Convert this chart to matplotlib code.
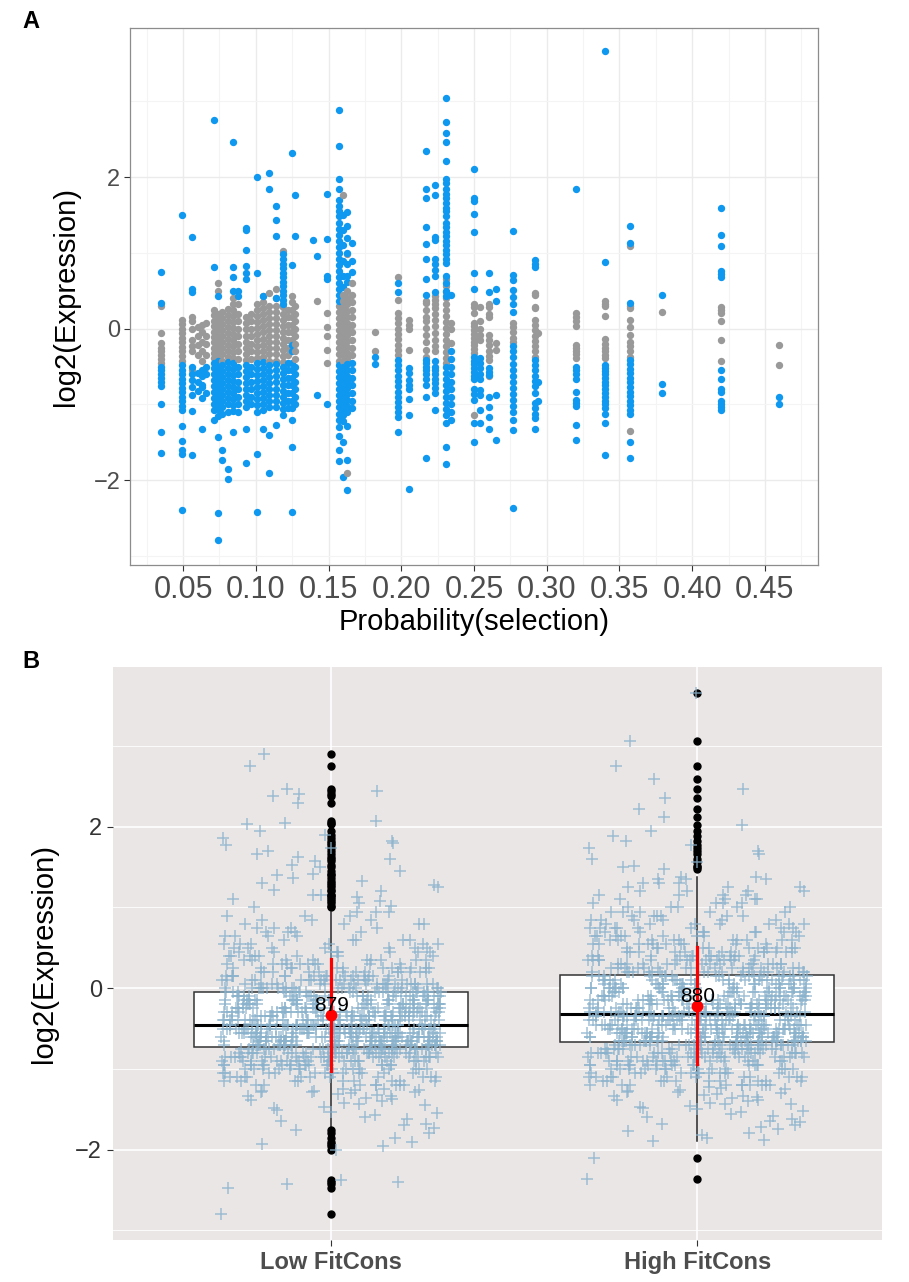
import matplotlib
matplotlib.use('Agg')
import matplotlib.pyplot as plt
from matplotlib.ticker import FixedLocator
import numpy as np

plt.rcParams['font.family'] = ['Liberation Sans', 'DejaVu Sans']

# ---------------- panel A: one entry per selection-probability column
sel_x = [0.035, 0.049, 0.056, 0.060, 0.063, 0.066, 0.071, 0.074, 0.077, 0.081,
         0.084, 0.088, 0.093, 0.097, 0.101, 0.105, 0.109, 0.114, 0.119, 0.122,
         0.125, 0.127, 0.139, 0.142, 0.149, 0.157, 0.160, 0.163, 0.166, 0.182,
         0.198, 0.205, 0.217, 0.223, 0.231, 0.234, 0.250, 0.254, 0.260,
         0.265, 0.277, 0.292, 0.294, 0.320, 0.340, 0.3575, 0.379, 0.420,
         0.460]

sel_gray = [
    [0.30, -0.06, -0.19, -0.25, -0.30, -0.35, -0.40, -0.45],
    [0.12, 0.06, 0.0, -0.06, -0.12, -0.18, -0.24, -0.30, -0.36, -0.42],
    [0.16, 0.10, 0.0, -0.15, -0.23, -0.30, -0.54],
    [0.02, -0.10, -0.22, -0.35],
    [0.05, -0.04, -0.17, -0.30, -0.43],
    [0.08, -0.10, -0.20, -0.35],
    [0.25, 0.18, 0.10, 0.03, -0.04, -0.11, -0.18, -0.25, -0.32, -0.39],
    [0.60, 0.50, 0.20, 0.12, 0.05, -0.02, -0.09, -0.16, -0.23, -0.30, -0.37],
    [0.22, 0.14, 0.06, -0.02, -0.10, -0.18, -0.26, -0.34, -0.42],
    [0.26, 0.18, 0.10, 0.02, -0.06, -0.14, -0.22, -0.30, -0.38],
    [0.41, 0.32, 0.25, 0.17, 0.09, 0.01, -0.07, -0.15, -0.23, -0.31, -0.39],
    [0.32, 0.20, 0.10, 0.0, -0.10, -0.20, -0.30, -0.40],
    [0.15, 0.07, -0.01, -0.09, -0.17, -0.25, -0.33, -0.41],
    [0.20, 0.10, 0.0, -0.10, -0.20, -0.30, -0.40],
    [0.32, 0.25, 0.17, 0.09, 0.01, -0.07, -0.15, -0.23, -0.31, -0.39],
    [0.43, 0.35, 0.27, 0.19, 0.11, 0.03, -0.05, -0.13, -0.21, -0.29, -0.37],
    [0.47, 0.30, 0.22, 0.14, 0.06, -0.02, -0.10, -0.18, -0.26, -0.34, -0.42],
    [0.52, 0.40, 0.30, 0.22, 0.14, 0.06, -0.02, -0.10, -0.18, -0.26, -0.34, -0.42],
    [1.02, 0.28, 0.20, 0.12, 0.04, -0.04, -0.12, -0.20, -0.28, -0.36, -0.44],
    [0.25, 0.15, 0.05, -0.05, -0.15, -0.25, -0.35],
    [0.43, 0.35, 0.25, 0.15, 0.05, -0.05, -0.15],
    [0.30, 0.20, 0.10, 0.0, -0.10, -0.20, -0.30, -0.40],
    [],
    [0.37],
    [0.21, 0.02, -0.10, -0.28, -0.45],
    [0.30, 0.22, 0.14, 0.06, -0.02, -0.10, -0.18, -0.26, -0.34, -0.42],
    [1.76, 0.45, 0.37, 0.29, 0.21, 0.13, 0.05, -0.03, -0.11, -0.19, -0.27, -0.35, -0.43],
    [0.98, 0.50, 0.40, 0.32, 0.24, 0.16, 0.08, 0.0, -0.08, -0.16, -0.24, -0.32, -0.40, -1.90],
    [0.60, 0.45, 0.35, 0.25, 0.15, 0.05, -0.05, -0.15, -0.25, -0.35],
    [-0.04, -0.30],
    [0.68, 0.38, 0.21, 0.14, 0.07, 0.0, -0.07, -0.14, -0.21, -0.28, -0.35],
    [0.12, 0.05, 0.0, -0.28],
    [0.37, 0.34, 0.25, 0.16, 0.10, 0.01, -0.08, -0.17, -0.28, -0.37],
    [0.43, 0.38, 0.32, 0.27, 0.20, 0.12, 0.03, -0.06, -0.15, -0.23, -0.30],
    [0.65, 0.57, 0.49, 0.41, 0.33, 0.25, 0.17, 0.09, 0.01, -0.07, -0.15, -0.23, -0.31, -0.39, -0.45],
    [0.08, 0.0, -0.19],
    [0.33, 0.29, 0.21, 0.08, 0.03, -0.02, -0.07, -0.12, -0.17, -0.22, -0.27, -0.32, -1.14],
    [0.29, 0.10, -0.01, -0.08, -0.15],
    [0.33, 0.28, 0.20, 0.16, -0.08, -0.15, -0.22, -0.30, -0.36, -0.41, -0.63],
    [-0.19, -0.28],
    [0.08, 0.02, -0.05, -0.12, -0.18],
    [0.47, 0.45, 0.29, 0.27, 0.12, 0.05, -0.02, -0.09, -0.16, -0.23, -0.30, -0.37],
    [-0.06],
    [0.21, 0.15, 0.10, 0.03, -0.21, -0.25, -0.30, -0.34, -0.39],
    [0.36, 0.33, 0.30, 0.17, -0.14, -0.20, -0.25, -0.30, -0.35, -0.39],
    [1.09, 0.30, 0.27, 0.12, 0.02, -0.08, -0.17, -0.23, -0.30, -0.37, -1.35],
    [0.22],
    [0.29, 0.25, 0.21, 0.10, -0.15, -0.42],
    [-0.22, -0.48],
]

sel_blue = [
    [0.75, 0.34, -0.50, -0.55, -0.60, -0.65, -0.70, -0.76, -1.00, -1.36, -1.64],
    [1.50, -0.48, -0.54, -0.60, -0.66, -0.72, -0.78, -0.84, -0.90, -0.96, -1.02, -1.08,
     -1.28, -1.48, -1.60, -1.65, -2.40],
    [1.21, 0.52, 0.49, -0.50, -0.60, -0.68, -0.77, -0.87, -1.09, -1.67],
    [-0.58, -0.70, -0.82],
    [-0.54, -0.63, -0.74, -0.77, -0.92, -1.32],
    [-0.50, -0.60, -0.85],
    [2.75, 0.81, -0.45, -0.52, -0.60, -0.68, -0.76, -0.84, -0.92, -1.00, -1.08, -1.20],
    [0.43, -0.42, -0.50, -0.58, -0.66, -0.74, -0.82, -0.90, -0.98, -1.06, -1.15, -1.43,
     -2.44, -2.79],
    [-0.48, -0.56, -0.64, -0.72, -0.80, -0.88, -0.96, -1.04, -1.12, -1.60, -1.73],
    [-0.44, -0.52, -0.60, -0.68, -0.76, -0.84, -0.92, -1.00, -1.10, -1.85, -1.98],
    [2.46, 0.82, 0.68, 0.50, -0.45, -0.53, -0.61, -0.69, -0.77, -0.85, -0.93, -1.01,
     -1.09, -1.36],
    [0.50, 0.43, -0.50, -0.60, -0.70, -0.80, -0.90, -1.00, -1.10],
    [1.33, 1.30, 1.04, 0.83, 0.74, 0.66, -0.48, -0.56, -0.64, -0.72, -0.80, -0.88,
     -0.96, -1.04, -1.32, -1.77],
    [-0.50, -0.60, -0.70, -0.80, -0.90, -1.00],
    [2.00, 0.74, -0.45, -0.53, -0.61, -0.69, -0.77, -0.85, -0.93, -1.01, -1.10, -1.65, -2.42],
    [0.43, -0.44, -0.52, -0.60, -0.68, -0.76, -0.84, -0.92, -1.00, -1.08, -1.32],
    [2.05, 1.84, -0.48, -0.56, -0.64, -0.72, -0.80, -0.88, -0.96, -1.04, -1.41, -1.90],
    [1.62, 1.43, 1.22, 0.41, -0.47, -0.55, -0.63, -0.71, -0.79, -0.87, -0.95, -1.03, -1.27],
    [0.98, 0.92, 0.86, 0.80, 0.74, 0.68, 0.62, 0.56, 0.50, 0.44, 0.38, 0.32, -0.50,
     -0.58, -0.66, -0.74, -0.82, -0.90, -0.98, -1.06, -1.14],
    [-0.45, -0.55, -0.65, -0.75, -0.85, -0.95, -1.05],
    [2.32, 0.84, -0.22, -0.30, -0.45, -0.55, -0.65, -0.75, -0.85, -0.95, -1.05, -1.20,
     -1.56, -2.42],
    [1.77, 1.23, -0.50, -0.60, -0.70, -0.80, -0.90, -1.00],
    [1.17],
    [0.96, -0.87],
    [1.78, 1.19, 0.69, 0.65, -1.00],
    [2.89, 2.41, 1.98, 1.85, 1.70, 1.62, 1.55, 1.49, 1.40, 1.32, 1.24, 1.16, 1.08, 1.00,
     0.92, 0.84, 0.76, 0.68, 0.60, 0.52, 0.44, 0.36, -0.48, -0.56, -0.64, -0.72, -0.80,
     -0.88, -0.96, -1.04, -1.12, -1.20, -1.30, -1.42, -1.60, -1.75],
    [1.50, 1.30, 1.10, 0.90, 0.70, 0.55, -0.50, -0.58, -0.66, -0.74, -0.82, -0.90,
     -0.98, -1.06, -1.14, -1.22, -1.49, -1.96],
    [1.54, 1.36, 1.20, 1.00, 0.85, 0.70, 0.62, -0.46, -0.54, -0.62, -0.70, -0.78,
     -0.86, -0.94, -1.02, -1.10, -1.29, -1.74, -2.13],
    [1.13, 0.90, 0.75, -0.45, -0.55, -0.65, -0.75, -0.85, -0.95, -1.05],
    [-0.37, -0.46],
    [0.60, 0.49, -0.41, -0.48, -0.55, -0.62, -0.69, -0.76, -0.83, -0.90, -0.97, -1.04,
     -1.10, -1.16, -1.36],
    [-0.52, -0.59, -0.68, -0.74, -0.79, -0.93, -1.14, -2.12],
    [2.35, 1.84, 1.72, 1.34, 1.12, 0.92, 0.66, 0.45, -0.41, -0.45, -0.50, -0.55, -0.60,
     -0.67, -0.74, -0.90, -1.71],
    [1.90, 1.76, 1.21, 1.17, 0.92, 0.85, 0.78, 0.70, 0.49, -0.43, -0.50, -0.55, -0.60,
     -0.66, -0.72, -0.78, -0.85, -1.07],
    [3.04, 2.73, 2.58, 2.46, 2.21, 1.97, 1.93, 1.84, 1.78, 1.72, 1.66, 1.60, 1.55, 1.49,
     1.40, 1.34, 1.28, 1.22, 1.16, 1.10, 1.04, 0.98, 0.92, 0.87, 0.69, 0.60, 0.50, 0.43,
     -0.50, -0.58, -0.66, -0.74, -0.82, -0.90, -0.98, -1.06, -1.14, -1.25, -1.56, -1.78],
    [0.45, -0.30, -0.40, -0.50, -0.60, -0.70, -0.79, -0.90, -1.00, -1.10, -1.20],
    [2.11, 1.72, 1.69, 1.51, 1.28, 0.74, 0.52, -0.37, -0.42, -0.47, -0.52, -0.57, -0.62,
     -0.67, -0.79, -0.86, -0.94, -1.25, -1.49],
    [-0.39, -0.45, -0.52, -0.60, -0.67, -0.81, -0.87, -1.07, -1.25],
    [0.74, 0.49, -0.52, -0.57, -0.61, -0.90, -1.03, -1.16, -1.33],
    [0.52, 0.36, -0.87, -1.47],
    [1.29, 0.71, 0.64, 0.51, 0.42, 0.32, 0.22, -0.23, -0.30, -0.38, -0.46, -0.54, -0.62,
     -0.70, -0.78, -0.86, -0.94, -1.02, -1.10, -1.20, -1.34, -2.37],
    [0.91, 0.86, 0.81, -0.41, -0.48, -0.55, -0.62, -0.69, -0.76, -0.85, -0.98, -1.05,
     -1.12, -1.18, -1.32],
    [-0.70, -0.96],
    [1.84, -0.51, -0.55, -0.60, -0.67, -0.83, -0.94, -0.98, -1.02, -1.27, -1.47],
    [3.66, 0.88, -0.48, -0.52, -0.56, -0.60, -0.65, -0.70, -0.75, -0.80, -0.85, -0.90,
     -0.95, -1.00, -1.05, -1.12, -1.25, -1.67],
    [1.36, 1.13, 0.34, -0.41, -0.47, -0.53, -0.59, -0.65, -0.71, -0.77, -0.83, -0.89,
     -0.95, -1.01, -1.07, -1.13, -1.50, -1.71],
    [0.44, -0.73, -0.85],
    [1.60, 1.24, 1.09, 0.76, 0.72, 0.68, -0.55, -0.67, -0.79, -0.83, -0.96, -1.00,
     -1.03, -1.07],
    [-0.90, -1.00],
]

# ---------------- panel B: log2 expression per FitCons group
groups = ['Low FitCons', 'High FitCons']

low_core_vals = [-1.2, -1.15, -1.1, -1.05, -1.0, -0.95, -0.9, -0.85, -0.8, -0.75,
                 -0.7, -0.65, -0.6, -0.55, -0.5, -0.45,
                 -0.4, -0.35, -0.3, -0.25, -0.2, -0.15, -0.1, -0.05,
                 0.0, 0.05, 0.1, 0.15, 0.2, 0.25, 0.3, 0.35, 0.4, 0.45, 0.5, 0.55,
                 0.6, 0.65, 0.7, 0.75, 0.8, 0.85, 0.9, 0.95]
low_core_counts = [8, 9, 11, 13, 15, 18, 21, 24, 27, 29,
                   35, 37, 38, 38, 37, 35,
                   32, 31, 29, 28, 27, 25, 24, 24,
                   22, 20, 17, 15, 13, 12, 10, 9, 8, 8, 7, 6,
                   5, 4, 4, 4, 4, 3, 3, 3]
low_tail = [-2.8, -2.47, -2.42, -2.4, -2.38, -2.0, -1.96, -1.93, -1.9, -1.85, -1.8,
            -1.76, -1.73, -1.7, -1.68, -1.64, -1.62, -1.6, -1.57, -1.55, -1.53, -1.51,
            -1.49, -1.47, -1.45, -1.43, -1.42, -1.4, -1.38, -1.37, -1.36, -1.34, -1.33,
            -1.32, -1.31, -1.3, -1.29, -1.28, -1.28, -1.27, -1.27, -1.26, -1.26, -1.25,
            -1.25,
            1.0, 1.02, 1.05, 1.08, 1.1, 1.13, 1.15, 1.16, 1.2, 1.22, 1.25, 1.28, 1.3,
            1.33, 1.37, 1.4, 1.42, 1.45, 1.5, 1.53, 1.57, 1.6, 1.62, 1.66, 1.7, 1.74,
            1.78, 1.8, 1.82, 1.86, 1.9, 1.95, 2.03, 2.05, 2.07, 2.3, 2.38, 2.41, 2.44,
            2.47, 2.75, 2.9]

high_core_vals = [-1.2, -1.15, -1.1, -1.05, -1.0, -0.95, -0.9, -0.85, -0.8, -0.75, -0.7,
                  -0.65, -0.6, -0.55, -0.5, -0.45, -0.4, -0.35,
                  -0.3, -0.25, -0.2, -0.15, -0.1, -0.05, 0.0, 0.05, 0.1, 0.15,
                  0.2, 0.25, 0.3, 0.35, 0.4, 0.45, 0.5, 0.55, 0.6, 0.65, 0.7, 0.75,
                  0.8, 0.85, 0.9, 0.95, 1.0, 1.05, 1.1, 1.15, 1.2, 1.25, 1.3, 1.35, 1.38]
high_core_counts = [10, 10, 11, 12, 13, 15, 17, 19, 21, 23, 25,
                    31, 32, 32, 32, 32, 31, 30,
                    25, 24, 23, 23, 22, 22, 21, 21, 20, 19,
                    17, 16, 15, 14, 13, 12, 11, 10, 10, 9, 8, 8,
                    7, 6, 6, 5, 5, 4, 4, 4, 4, 3, 3, 3, 2]
high_tail = [-2.36, -2.11, -1.89, -1.88, -1.85, -1.82, -1.8, -1.77, -1.75, -1.72, -1.7,
             -1.68, -1.66, -1.64, -1.62, -1.6, -1.58, -1.56, -1.54, -1.52, -1.5, -1.49,
             -1.47, -1.46, -1.44, -1.43, -1.42, -1.4, -1.39, -1.38, -1.36, -1.35, -1.34,
             -1.33, -1.32, -1.31, -1.3, -1.29, -1.28, -1.27, -1.26, -1.25, -1.24, -1.23,
             1.48, 1.5, 1.52, 1.56, 1.6, 1.66, 1.7, 1.74, 1.78, 1.83, 1.88, 1.95, 2.02,
             2.12, 2.22, 2.36, 2.47, 2.59, 2.75, 3.06, 3.66]

low_expr = np.sort(np.concatenate([np.repeat(low_core_vals, low_core_counts), low_tail]))
high_expr = np.sort(np.concatenate([np.repeat(high_core_vals, high_core_counts), high_tail]))
expr = [low_expr, high_expr]

BLUE = '#0e98f0'
GRAY = '#999999'
GRID_A = '#ebebeb'
TXT = '#4d4d4d'

fig = plt.figure(figsize=(9.09, 12.82), dpi=100)

# ================= panel A
axA = fig.add_axes([130 / 909, 1 - 565 / 1282, 688 / 909, 537 / 1282])
for x, g, b in zip(sel_x, sel_gray, sel_blue):
    axA.scatter([x] * len(g), g, s=28, color=GRAY, linewidths=0, zorder=3)
    axA.scatter([x] * len(b), b, s=28, color=BLUE, linewidths=0, zorder=3)

axA.set_xlim(0.0135, 0.4865)
axA.set_ylim(-3.12, 3.97)
axA.set_xticks([0.05, 0.10, 0.15, 0.20, 0.25, 0.30, 0.35, 0.40, 0.45])
axA.set_xticklabels(['%.2f' % v for v in axA.get_xticks()], fontsize=22)
axA.set_yticks([-2, 0, 2])
axA.set_yticklabels(['\u22122', '0', '2'], fontsize=17)
axA.xaxis.set_minor_locator(FixedLocator([0.025, 0.075, 0.125, 0.175, 0.225, 0.275,
                                          0.325, 0.375, 0.425, 0.475]))
axA.yaxis.set_minor_locator(FixedLocator([-3, -1, 1, 3]))
axA.grid(True, which='major', color=GRID_A, lw=1.0, zorder=0)
axA.grid(True, which='minor', color='#f4f4f4', lw=0.8, zorder=0)
axA.set_axisbelow(True)
axA.tick_params(which='major', colors='#333333', length=4, width=0.8, labelcolor=TXT,
                pad=3)
axA.tick_params(which='minor', length=0)
for sp in axA.spines.values():
    sp.set_color('#8c8c8c')
    sp.set_linewidth(0.9)
axA.set_xlabel('Probability(selection)', fontsize=21, labelpad=2)
axA.set_ylabel('log2(Expression)', fontsize=21, labelpad=10)

# ================= panel B
axB = fig.add_axes([113 / 909, 1 - 1240 / 1282, 769 / 909, 573 / 1282])
axB.set_facecolor('#ebe6e6')
pos = [1, 2]
axB.boxplot(expr, positions=pos, widths=0.75, patch_artist=True, showcaps=False,
            boxprops=dict(facecolor='white', edgecolor='#333333', lw=1.1),
            medianprops=dict(color='black', lw=2.2),
            whiskerprops=dict(color='#222222', lw=1.1),
            flierprops=dict(marker='o', markerfacecolor='black', markeredgecolor='black',
                            markersize=5, linestyle='none'),
            zorder=2)

# deterministic jitter (quadratic golden-ratio spacing) in place of ggplot's random jitter
for p, vals in zip(pos, expr):
    k = np.arange(len(vals), dtype=float)
    off = (((k * k * 0.6180339887 + k * 0.4142135624) % 1.0) * 2 - 1) * 0.3
    axB.plot(p + off, vals, '+', color='#8ab2cc', alpha=0.8, ms=9, mew=1.1,
             zorder=3)

for p, vals in zip(pos, expr):
    m, s = vals.mean(), vals.std()
    axB.plot([p, p], [m - s, m + s], color='red', lw=2.3, zorder=4)
    axB.plot(p, m, 'o', color='red', ms=7.5, zorder=5)
    axB.text(p, m, str(len(vals)), ha='center', va='bottom', fontsize=15, zorder=6)

axB.set_xlim(0.404, 2.505)
axB.set_ylim(-3.12, 3.98)
axB.set_xticks(pos)
axB.set_xticklabels(groups, fontsize=17, fontweight='bold', color=TXT)
axB.set_yticks([-2, 0, 2])
axB.set_yticklabels(['\u22122', '0', '2'], fontsize=17, color=TXT)
axB.yaxis.set_minor_locator(FixedLocator([-3, -1, 1, 3]))
axB.grid(True, which='major', color='white', lw=1.2, zorder=0)
axB.grid(True, which='minor', axis='y', color='white', lw=0.6, zorder=0)
axB.set_axisbelow(True)
axB.tick_params(which='major', colors='#333333', length=4, width=0.8, pad=4)
axB.tick_params(axis='x', labelcolor=TXT)
axB.tick_params(which='minor', length=0)
for sp in axB.spines.values():
    sp.set_visible(False)
axB.set_ylabel('log2(Expression)', fontsize=21, labelpad=12)

fig.text(22 / 909, 1 - 22 / 1282, 'A', fontsize=17, fontweight='bold', va='center')
fig.text(22 / 909, 1 - 662 / 1282, 'B', fontsize=17, fontweight='bold', va='center')

fig.savefig('out.png', dpi=100)
